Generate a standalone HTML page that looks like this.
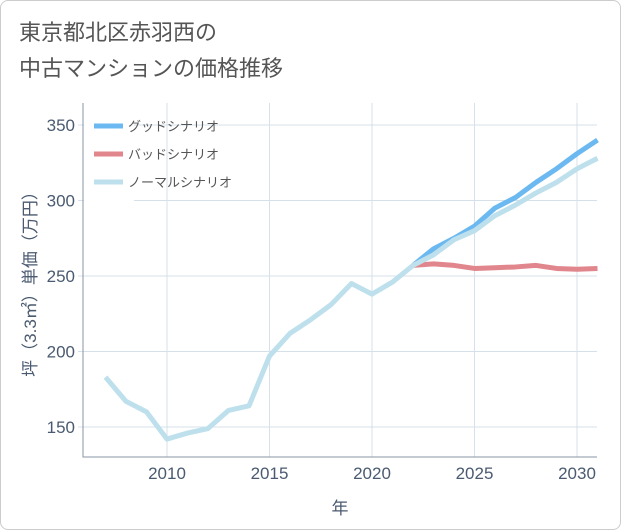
<!DOCTYPE html>
<html><head><meta charset="utf-8"><style>
body{margin:0;background:#fff;}
#wrap{position:relative;width:619px;height:528px;border:1px solid #ccc;border-radius:8px;background:#fff;overflow:hidden;font-family:"Liberation Sans","Noto Sans CJK JP",sans-serif;}
#title{position:absolute;left:18px;top:14px;font-size:22px;line-height:36px;color:#555;}
</style></head><body>
<div id="wrap">
<div id="title">東京都北区赤羽西の<br>中古マンションの価格推移</div>
<svg id="chart" width="621" height="530" style="position:absolute;left:-1px;top:-1px"></svg>
</div>
<script>
const years=[2007,2008,2009,2010,2011,2012,2013,2014,2015,2016,2017,2018,2019,2020,2021,2022,2023,2024,2025,2026,2027,2028,2029,2030,2031];
const normalValues=[183,167,160,142,146,149,161,164,197,212,221,231,245,238,246,257,264,274,280,290,297,305,312,321,328];
const goodYears=[2022,2023,2024,2025,2026,2027,2028,2029,2030,2031];
const goodValues=[257,268,275,283,295,302,312,321,331,340];
const badValues=[257,258,257,255,255.5,256,257,255,254.5,255];
const xTicks=[2010,2015,2020,2025,2030];
const yTicks=[150,200,250,300,350];
const L=83,R=597,T=103,B=457;
const x=v=>167+(v-2010)*20.5;
const y=v=>427-(v-150)*1.51;
const svg=document.getElementById('chart');
const NS='http://www.w3.org/2000/svg';
function mk(t,a){const e=document.createElementNS(NS,t);for(const k in a)e.setAttribute(k,a[k]);svg.appendChild(e);return e;}
xTicks.forEach(v=>{const l=mk('line',{x1:x(v),x2:x(v),y1:T,y2:B,stroke:'#d5e0ea','stroke-width':1});

const t=mk('text',{x:x(v),y:B+22,'text-anchor':'middle','font-size':17,fill:'#4a5a70'});t.textContent=v;
});
yTicks.forEach(v=>{const l=mk('line',{x1:L-5,x2:R,y1:y(v),y2:y(v),stroke:'#d5e0ea','stroke-width':1});

const t=mk('text',{x:L-8,y:y(v)+6,'text-anchor':'end','font-size':17,fill:'#4a5a70'});t.textContent=v;
});
const lb=mk('rect',{x:L+1,y:T+1,width:50,height:100,fill:'#fff'});

const ax=mk('path',{d:`M${L},${T}V${B}H${R}`,fill:'none',stroke:'#8a96a3','stroke-width':1});

function line(xs,vs,c,name){const p=mk('polyline',{points:xs.map((yr,i)=>x(yr)+','+y(vs[i])).join(' '),fill:'none',stroke:c,'stroke-width':5,'stroke-linejoin':'round'});
}
line(goodYears,goodValues,'#6bb9f0','good-scenario-line');
line(goodYears,badValues,'#e0868c','bad-scenario-line');
line(years,normalValues,'#bde0ec','normal-scenario-line');
[['グッドシナリオ','#6bb9f0'],['バッドシナリオ','#e0868c'],['ノーマルシナリオ','#bde0ec']].forEach((d,i)=>{
const yy=126+i*28;const l=mk('line',{x1:94,x2:123,y1:yy,y2:yy,stroke:d[1],'stroke-width':5});

const t=mk('text',{x:128,y:yy+5,'font-size':13,fill:'#555'});t.textContent=d[0];
});
const xt=mk('text',{x:340,y:514,'text-anchor':'middle','font-size':17,fill:'#4a5a70'});xt.textContent='年';

const yt=mk('text',{x:0,y:0,'text-anchor':'middle','font-size':17,fill:'#4a5a70',transform:'translate(36,280) rotate(-90)'});yt.textContent='坪（3.3㎡）単価（万円）';

</script>
</body></html>
